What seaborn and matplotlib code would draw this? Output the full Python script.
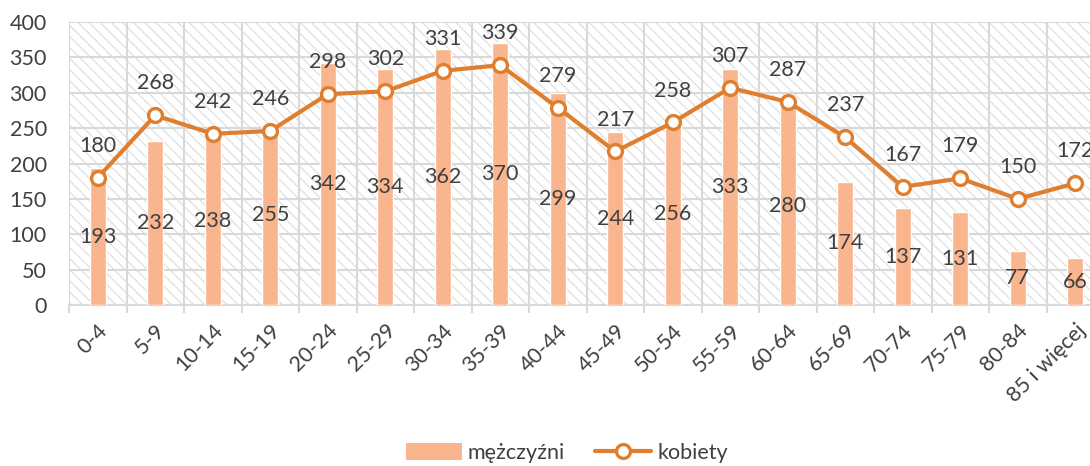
import numpy as np
import pandas as pd
import seaborn as sns
import matplotlib.pyplot as plt
from matplotlib.patches import Rectangle
from matplotlib.lines import Line2D
from matplotlib.patches import Patch

age_groups = ["0-4", "5-9", "10-14", "15-19", "20-24", "25-29", "30-34", "35-39",
              "40-44", "45-49", "50-54", "55-59", "60-64", "65-69", "70-74", "75-79",
              "80-84", "85 i więcej"]
men = [193, 232, 238, 255, 342, 334, 362, 370, 299, 244, 256, 333, 280, 174, 137, 131, 77, 66]
women = [180, 268, 242, 246, 298, 302, 331, 339, 279, 217, 258, 307, 287, 237, 167, 179, 150, 172]
y_ticks = [0, 50, 100, 150, 200, 250, 300, 350, 400]

bar_color = "#F8B58E"
line_color = "#E07E2F"
grid_color = "#D9D9D9"
hatch_color = "#DCDCDC"
text_color = "#404040"
fs = 15.5

sns.set_theme(style="white")
plt.rcParams["font.family"] = ["Lato", "DejaVu Sans"]
plt.rcParams["hatch.linewidth"] = 0.8

df = pd.DataFrame({"grupa": age_groups, "mezczyzni": men, "kobiety": women})

fig = plt.figure(figsize=(10.9, 4.66), dpi=100)
ax = fig.add_axes([69 / 1090, 161 / 466, 1035 / 1090, 283 / 466])

# hatched background
ax.add_patch(Rectangle((0, 0), 1, 1, transform=ax.transAxes, facecolor="white",
                       edgecolor=hatch_color, hatch="\\\\\\", linewidth=0, zorder=0))

sns.barplot(data=df, x="grupa", y="mezczyzni", color=bar_color, width=0.28,
            saturation=1, ax=ax, zorder=3)
sns.pointplot(data=df, x="grupa", y="kobiety", color=line_color, ax=ax,
              markers="o", markersize=10, markerfacecolor="white",
              markeredgewidth=2.4, linewidth=3, zorder=4)

ax.bar_label(ax.containers[0], label_type="center", fontsize=fs, color=text_color)
for i, v in enumerate(women):
    ax.annotate(str(v), (i, v), xytext=(0, 23), textcoords="offset points",
                ha="center", va="center", fontsize=fs, color=text_color, zorder=5)

ax.set_xlim(-0.5, len(age_groups) - 0.5)
ax.set_ylim(0, 400)
ax.set_yticks(y_ticks)
ax.set_xticks(np.arange(len(age_groups)))
ax.set_xticks(np.arange(len(age_groups) + 1) - 0.5, minor=True)
ax.set_xticklabels(age_groups, rotation=45, ha="right", rotation_mode="anchor")
ax.tick_params(axis="x", which="major", length=0, pad=11, labelsize=fs, labelcolor=text_color)
ax.tick_params(axis="x", which="minor", length=6, width=1.5, color=grid_color, bottom=True)
ax.tick_params(axis="y", length=0, pad=16, labelsize=fs, labelcolor=text_color)
ax.grid(True, axis="y", color=grid_color, linewidth=1.5, zorder=1)
ax.grid(True, axis="x", which="minor", color=grid_color, linewidth=1.5, zorder=1)
ax.set_axisbelow(True)
for s in ["top", "right", "left"]:
    ax.spines[s].set_visible(False)
ax.spines["bottom"].set_color(grid_color)
ax.spines["bottom"].set_linewidth(1.5)
ax.set_xlabel("")
ax.set_ylabel("")

handles = [Patch(facecolor=bar_color, edgecolor="none"),
           Line2D([0], [0], color=line_color, linewidth=3, marker="o", markersize=10,
                  markerfacecolor="white", markeredgewidth=2.4)]
fig.legend(handles, ["mężczyźni", "kobiety"], loc="center", ncol=2, frameon=False,
           bbox_to_anchor=(567 / 1090, 13 / 466), fontsize=fs, labelcolor=text_color,
           handlelength=2.6, handleheight=0.8, handletextpad=0.3, columnspacing=1.4)

fig.savefig("out.png", dpi=100)
